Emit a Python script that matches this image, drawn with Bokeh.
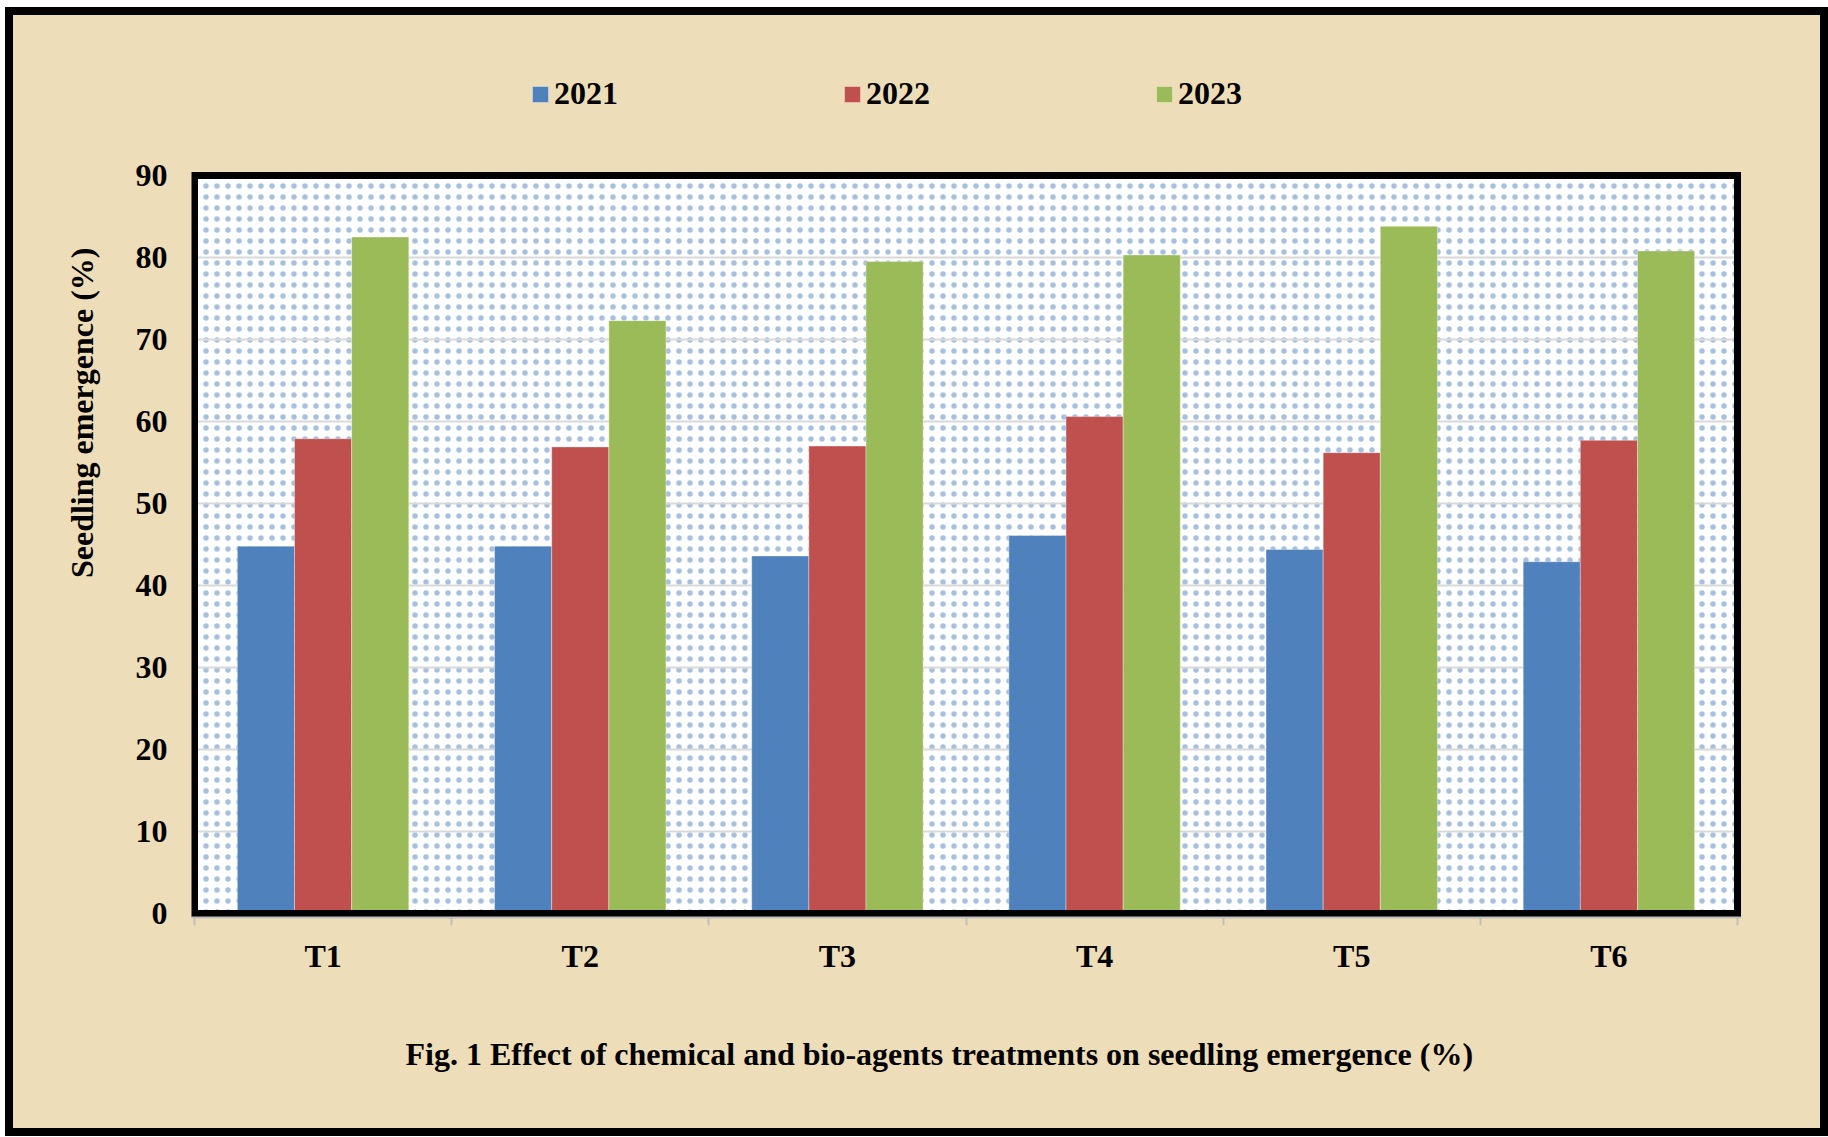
from bokeh.plotting import figure
from bokeh.models import (Range1d, FixedTicker, ColumnDataSource, Legend, LegendItem, Title)
from bokeh.transform import dodge
from bokeh.embed import file_html
from bokeh.resources import INLINE

# ---------------- data ----------------
categories = ["T1", "T2", "T3", "T4", "T5", "T6"]
series_names = ["2021", "2022", "2023"]
vals_2021 = [44.8, 44.8, 43.6, 46.1, 44.4, 42.9]
vals_2022 = [57.9, 56.9, 57.0, 60.6, 56.2, 57.7]
vals_2023 = [82.5, 72.3, 79.5, 80.3, 83.8, 80.8]
y_ticks = [0, 10, 20, 30, 40, 50, 60, 70, 80, 90]
y_title = "Seedling emergence (%)"
fig_title = "Fig. 1 Effect of chemical and bio-agents treatments on seedling emergence (%)"

colors = ["#4F81BD", "#C0504D", "#9BBB59"]
FONT = "Liberation Serif"
BEIGE = "#EEDDB9"

n = len(categories)
x_centers = [i + 0.5 for i in range(n)]
src = ColumnDataSource(dict(x=x_centers, cat=categories,
                            y2021=vals_2021, y2022=vals_2022, y2023=vals_2023))

# canvas geometry (pixels); the host element has an 8px black border (border-box)
W, H = 1823, 1129
FL, FR, FT, FB = 178, 1728, 13, 902           # frame edges (frame also holds the legend)
X0, X1 = 181, 1724                             # pixel of x=0 and x=n
Y0, Y1 = 898, 160                              # pixel of y=0 and y=90
xu = (X1 - X0) / n
yu = (Y0 - Y1) / (y_ticks[-1] - y_ticks[0])

p = figure(width=W, height=H, output_backend="svg", toolbar_location=None,
           x_range=Range1d((FL - X0) / xu, (FR - X0) / xu),
           y_range=Range1d(y_ticks[0] - (FB - Y0) / yu, y_ticks[-1] + (Y1 - FT) / yu),
           min_border_left=FL, min_border_right=W - FR,
           min_border_top=FT, min_border_bottom=H - FB)
p.styles = {"border": "8px solid black", "margin": "7px 0px 0px 5px",
            "background-color": BEIGE}
p.border_fill_color = None
p.background_fill_color = None
p.outline_line_color = None

# plot area: white with blue dots
p.quad(left=[0], right=[n], bottom=[y_ticks[0]], top=[y_ticks[-1]],
       fill_color="white", line_color=None, level="image",
       hatch_pattern="dot", hatch_scale=11, hatch_weight=0.1, hatch_alpha=0.5,
       hatch_color="#4F81BD")

# grid
p.xgrid.visible = False
p.ygrid.ticker = FixedTicker(ticks=y_ticks[1:-1])
p.ygrid.grid_line_color = "#D9D9D9"
p.ygrid.grid_line_width = 2

# bars
bw = 0.2222
offsets = [-bw, 0.0, bw]
fields = ["y2021", "y2022", "y2023"]
renderers = []
for f, off, c in zip(fields, offsets, colors):
    r = p.vbar(x=dodge("x", off, range=p.x_range), top=f, bottom=0, width=bw, source=src,
               fill_color=c, line_color="white", line_alpha=0.35, line_width=1)
    renderers.append(r)

# black plot-area border
p.quad(left=[0], right=[n], bottom=[y_ticks[0]], top=[y_ticks[-1]],
       fill_color=None, line_color="black", line_width=7, line_join="miter")

# axes
xa = p.xaxis[0]
xa.ticker = FixedTicker(ticks=x_centers, minor_ticks=list(range(n + 1)))
xa.major_label_overrides = {x: c for x, c in zip(x_centers, categories)}
xa.major_tick_line_color = None
xa.major_tick_out = 0
xa.major_tick_in = 0
xa.minor_tick_line_color = "#BFBFBF"
xa.minor_tick_line_width = 2
xa.minor_tick_out = 8
xa.minor_tick_in = 0
xa.axis_line_color = "#BFBFBF"
xa.axis_line_width = 2
xa.major_label_standoff = 12

ya = p.yaxis[0]
ya.ticker = FixedTicker(ticks=y_ticks)
ya.axis_line_color = None
ya.major_tick_line_color = None
ya.minor_tick_line_color = None
ya.major_tick_out = 0
ya.major_tick_in = 0
ya.major_label_standoff = 24

for ax in (xa, ya):
    ax.major_label_text_font = FONT
    ax.major_label_text_font_style = "bold"
    ax.major_label_text_font_size = "32px"
    ax.major_label_text_color = "black"

# y-axis title as a side title (offset from top of frame)
p.add_layout(Title(text=y_title, align="right", offset=219, standoff=66,
                   vertical_align="bottom", text_font=FONT, text_font_style="bold",
                   text_font_size="32px", text_color="black"), "left")

# figure caption below the axis
p.add_layout(Title(text=fig_title, align="left", offset=214, standoff=119,
                   vertical_align="top", text_font=FONT, text_font_style="bold",
                   text_font_size="32px", text_color="black"), "below")

# legend (inside the frame, above the plot area)
items = [LegendItem(label=s, renderers=[r]) for s, r in zip(series_names, renderers)]
legend = Legend(items=items, orientation="horizontal", location=(339, 805),
                glyph_width=20, glyph_height=20, label_standoff=4,
                label_width=224, spacing=64,
                padding=0, margin=0, border_line_color=None, background_fill_alpha=0,
                label_text_font=FONT, label_text_font_style="bold",
                label_text_font_size="32px", label_text_color="black")
p.add_layout(legend, "center")

open("out.html", "w").write(file_html(p, INLINE))
